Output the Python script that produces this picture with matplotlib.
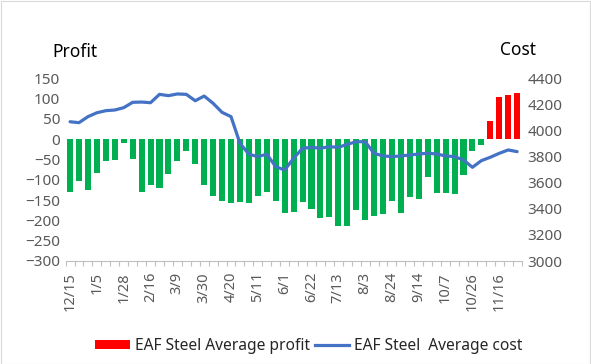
import matplotlib
matplotlib.use("Agg")
import matplotlib.pyplot as plt
from matplotlib.patches import Patch, Rectangle
from matplotlib.lines import Line2D
import numpy as np

plt.rcParams['font.family'] = ['Noto Sans', 'DejaVu Sans']

dates = ["12/15", "12/22", "12/29", "1/5", "1/12", "1/19", "1/28", "2/2", "2/9",
         "2/16", "2/23", "3/2", "3/9", "3/16", "3/23", "3/30", "4/6", "4/13",
         "4/20", "4/27", "5/4", "5/11", "5/18", "5/25", "6/1", "6/8", "6/15",
         "6/22", "6/29", "7/6", "7/13", "7/20", "7/27", "8/3", "8/10", "8/17",
         "8/24", "8/31", "9/7", "9/14", "9/21", "9/28", "10/7", "10/12", "10/19",
         "10/26", "11/2", "11/9", "11/16", "11/23", "11/30"]

profit = [-131, -102, -125, -83, -54, -50, -10, -48, -129, -112, -120, -86,
          -54, -30, -62, -112, -141, -153, -157, -155, -157, -139, -130, -153,
          -181, -179, -154, -173, -195, -191, -214, -214, -175, -200, -189, -185,
          -153, -181, -142, -148, -94, -132, -132, -134, -87, -29, -14,
          45, 103, 110, 115]

cost = [4067, 4060, 4106, 4136, 4152, 4157, 4175, 4216, 4218, 4213, 4277, 4267,
        4280, 4277, 4228, 4264, 4208, 4139, 4106, 3902, 3818, 3800, 3818, 3723,
        3697, 3787, 3864, 3871, 3864, 3876, 3871, 3894, 3914, 3914, 3825, 3805,
        3800, 3805, 3812, 3820, 3826, 3820, 3805, 3800, 3774, 3718, 3769, 3795,
        3825, 3851, 3838]

left_ticks = list(range(-300, 151, 50))
right_ticks = list(range(3000, 4401, 200))

W, H = 591, 364
fig = plt.figure(figsize=(W / 100, H / 100), dpi=100)
ax = fig.add_axes([65.6 / W, 1 - 261 / H, 456 / W, 182.7 / H])
ax2 = ax.twinx()

x = np.arange(len(dates))
colors = ['#00B050' if v < 0 else '#FF0000' for v in profit]
ax.bar(x, profit, width=0.68, color=colors, zorder=2)
ax2.plot(x, cost, color='#4472C4', lw=2.3, solid_joinstyle='round',
         solid_capstyle='round', zorder=3)

ax.set_xlim(-0.5, len(dates) - 0.5)
ax.set_ylim(-300, 150)
ax2.set_ylim(3000, 4400)
ax.set_yticks(left_ticks)
ax2.set_yticks(right_ticks)

tick_color = '#595959'
ax.tick_params(axis='y', length=0, labelsize=11, labelcolor=tick_color, pad=4)
ax2.tick_params(axis='y', length=0, labelsize=11, labelcolor=tick_color, pad=4)

ax.set_xticks(x[::3])
ax.set_xticklabels(dates[::3], rotation=90, fontsize=10.5, color=tick_color)
ax.set_xticks(np.arange(-0.5, len(dates), 1), minor=True)
ax.tick_params(axis='x', which='major', length=0, pad=8)
ax.tick_params(axis='x', which='minor', length=3.5, color='#BFBFBF', width=0.8)

for a in (ax, ax2):
    for s in ('left', 'right', 'top'):
        a.spines[s].set_visible(False)
    a.spines['bottom'].set_color('#BFBFBF')
    a.patch.set_visible(False)
ax2.spines['bottom'].set_visible(False)

fig.text(75 / W, 1 - 52 / H, "Profit", fontsize=12.5, ha='center', va='center')
fig.text(518 / W, 1 - 50 / H, "Cost", fontsize=12.5, ha='center', va='center')

handles = [Patch(facecolor='#FF0000', edgecolor='none'),
           Line2D([0], [0], color='#4472C4', lw=2.3)]
fig.legend(handles, ["EAF Steel Average profit", "EAF Steel  Average cost"],
           loc='center', bbox_to_anchor=(309 / W, 1 - 346 / H), ncol=2,
           frameon=False, fontsize=11.2, handlelength=2.2, handleheight=0.5,
           handletextpad=0.35, columnspacing=0.3, labelcolor='#262626')

fig.patches.append(Rectangle((0.5 / W, 0.5 / H), 1 - 1.5 / W, 1 - 1.5 / H,
                             transform=fig.transFigure, fill=False,
                             edgecolor='#D9D9D9', lw=0.8))

fig.savefig("out.png", dpi=100)
